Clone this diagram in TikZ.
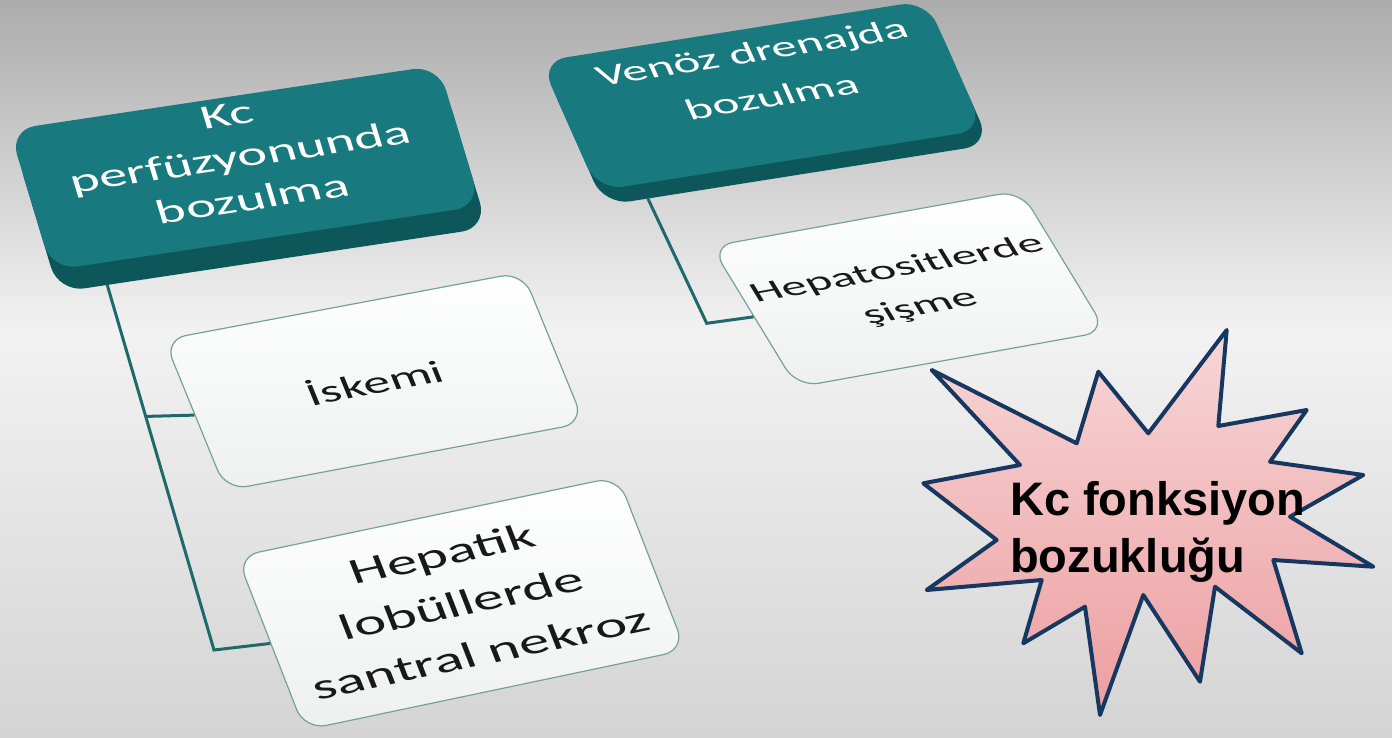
\documentclass[tikz,border=0pt]{standalone}
\usepackage{fontspec}
\setmainfont{Carlito}
\newfontfamily\starfont{Liberation Sans}
\usetikzlibrary{positioning, calc}
\definecolor{tealface}{RGB}{24,122,127}
\definecolor{tealband}{RGB}{13,86,90}
\definecolor{linkteal}{RGB}{30,105,108}
\definecolor{boxedge}{RGB}{118,160,160}
\definecolor{boxfill}{RGB}{238,240,240}
\definecolor{leaftext}{RGB}{25,25,25}
\definecolor{bgtop}{RGB}{172,172,172}
\definecolor{bgmid}{RGB}{242,242,242}
\definecolor{bgbot}{RGB}{212,212,212}
\definecolor{starline}{RGB}{22,56,96}
\definecolor{startop}{RGB}{247,214,215}
\definecolor{starbot}{RGB}{236,158,160}

\begin{document}
\begin{tikzpicture}[x=1pt, y=-1pt,
        head/.style={rounded corners=26pt, fill=tealface, transform shape, inner sep=0pt},
        headband/.style={head, fill=tealband},
        headtext/.style={text=white, align=center, transform shape, inner sep=0pt},
        leaf/.style={draw=boxedge, line width=1.2pt, rounded corners=22pt, top color=white, bottom color=boxfill, text=leaftext, align=center, transform shape, inner sep=0pt},
        link/.style={draw=linkteal, line width=3pt},
        burst/.style={draw=starline, line width=4pt, line join=round, top color=startop, bottom color=starbot}
    ]
        % Background
        \useasboundingbox (0,0) rectangle (1392,737);
        \shade[top color=bgtop, bottom color=bgmid] (0,0) rectangle (1392,330);
        \shade[top color=bgmid, bottom color=bgbot] (0,330) rectangle (1392,737);

        % Left branch
        \begin{scope}[cm={0.9885,0.1486,-0.1788,0.5931,(248.5,178.75)}]
            \node[headband, minimum width=434pt, minimum height=237pt] (kcband) at (0,18.5) {};
            \node[head, minimum width=434pt, minimum height=237pt] (kc) at (0,-18.5) {};
            \node[headtext, font=\fontsize{56}{71}\selectfont] (kctext) at (-2,-37) {Kc\\perfüzyonunda\\bozulma};
        \end{scope}
        \begin{scope}[cm={0.9819,0.1849,-0.2346,0.5734,(374.2,381.25)}]
            \node[leaf, minimum width=365pt, minimum height=263pt, font=\fontsize{53}{63}\selectfont] (isk) at (0,0) {İskemi};
        \end{scope}
        \begin{scope}[cm={0.9789,0.2057,-0.225,0.5777,(461.25,603.3)}]
            \node[leaf, minimum width=389pt, minimum height=300pt, font=\fontsize{60}{86}\selectfont] (hep) at (0,0) {Hepatik\\lobüllerde\\santral nekroz};
        \end{scope}

        % Right branch
        \begin{scope}[cm={0.9872,0.1560,-0.2520,0.5669,(765.4,102.9)}]
            \node[headband, minimum width=391pt, minimum height=228pt] (venozband) at (0,13) {};
            \node[head, minimum width=391pt, minimum height=228pt] (venoz) at (0,-13) {};
            \node[headtext, font=\fontsize{50}{79}\selectfont] (venoztext) at (8.8,-47.9) {Venöz drenajda\\bozulma};
        \end{scope}
        \begin{scope}[cm={0.9847,0.1779,-0.3226,0.5295,(908.75,288.8)}]
            \node[leaf, minimum width=314pt, minimum height=266pt, font=\fontsize{49}{72}\selectfont] (hepsit) at (0,0) {Hepatositlerde\\şişme};
        \end{scope}

        % Connectors
        \coordinate (kcstem) at ($(kcband.south west)!0.114!(kcband.south east)$);
        \coordinate (kcjoint) at (214,650);
        \draw[link] (kcstem) -- (kcjoint) -- (hep.west);
        \draw[link] ($(kcstem)!0.36!(kcjoint)$) -- (isk.west);
        \coordinate (venstem) at ($(venozband.south west)!0.113!(venozband.south east)$);
        \coordinate (venjoint) at (706.7,323.3);
        \draw[link] (venstem) -- (venjoint) -- (hepsit.west);

        % Explosion
        \draw[burst] (931.7,370) -- (1076.7,443.3) -- (1098.3,371.7) -- (1148.3,433.3)
            -- (1226.7,330) -- (1218.3,426) -- (1306.7,410) -- (1270,461.7)
            -- (1363.3,475) -- (1290,516.7) -- (1373.3,566.7) -- (1273.3,560)
            -- (1301.7,653.3) -- (1215,586.7) -- (1200,681.7) -- (1143.3,595)
            -- (1100,715) -- (1085,606.7) -- (1023.3,643.3) -- (1041.7,580)
            -- (926.7,590) -- (996.7,540) -- (923.3,483.3) -- (1020,465) -- cycle;
        \node[font=\starfont\bfseries\fontsize{47}{57}\selectfont, align=left, anchor=base west, inner sep=0pt] (kcfonk) at (1010,572) {Kc fonksiyon\\bozukluğu};
    \end{tikzpicture}
\end{document}
